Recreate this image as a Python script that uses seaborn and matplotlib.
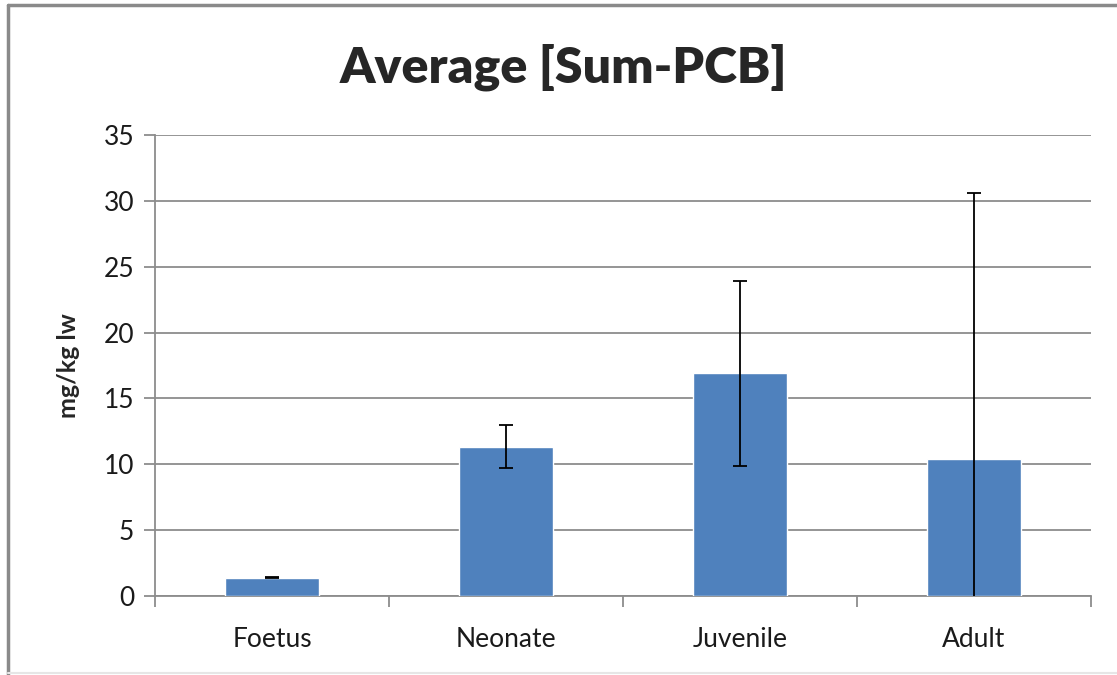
import pandas as pd
import seaborn as sns
import matplotlib.pyplot as plt
from matplotlib.lines import Line2D
from matplotlib.ticker import MultipleLocator, FixedLocator

# data
stages = ["Foetus", "Neonate", "Juvenile", "Adult"]
avg_pcb = [1.4, 11.35, 16.9, 10.4]
err_pcb = [0.05, 1.65, 7.0, 20.2]

df = pd.DataFrame({"stage": stages, "avg": avg_pcb, "err": err_pcb})

sns.set_style("white")
plt.rcParams['font.family'] = ['Lato', 'DejaVu Sans']

fig = plt.figure(figsize=(11.17, 6.75), dpi=100)
ax = fig.add_axes([155 / 1117, 1 - 596 / 675, (1091 - 155) / 1117, (596 - 135) / 675])

sns.barplot(data=df, x="stage", y="avg", color="#4F81BD", saturation=1, width=0.4, ax=ax, zorder=3)
ax.errorbar(range(len(stages)), df["avg"], yerr=df["err"], fmt="none", ecolor="black",
            elinewidth=1.3, capsize=4.7, capthick=1.3, zorder=4)

ax.set_ylim(0, 35)
ax.set_xlim(-0.5, 3.5)
ax.yaxis.set_major_locator(MultipleLocator(5))
ax.grid(axis="y", color="#8c8c8c", linewidth=1.3, zorder=0)
ax.set_axisbelow(True)

for side in ["top", "right"]:
    ax.spines[side].set_visible(False)
for side in ["left", "bottom"]:
    ax.spines[side].set_color("#8c8c8c")
    ax.spines[side].set_linewidth(1.3)

ax.tick_params(axis="y", length=8, width=1.3, color="#8c8c8c", labelsize=19, pad=7, direction="out", left=True)
ax.tick_params(axis="x", which="major", length=0, labelsize=19, pad=22)
ax.xaxis.set_minor_locator(FixedLocator([-0.5, 0.5, 1.5, 2.5, 3.5]))
ax.tick_params(axis="x", which="minor", length=8, width=1.3, color="#8c8c8c", direction="out", bottom=True)
for lbl in ax.get_xticklabels() + ax.get_yticklabels():
    lbl.set_color("#1a1a1a")

ax.set_xlabel("")
ax.set_ylabel("mg/kg lw", fontsize=18, fontweight="bold", labelpad=17)
fig.text(0.504, 1 - 67 / 675, "Average [Sum-PCB]", ha="center", va="center", fontsize=36, fontweight="heavy")

# chart frame: left and top edges, faint bottom
fig.lines.append(Line2D([8 / 1117, 8 / 1117], [0, 1 - 5 / 675], transform=fig.transFigure,
                        color="#8a8a8a", linewidth=2.5))
fig.lines.append(Line2D([8 / 1117, 1], [1 - 5 / 675, 1 - 5 / 675], transform=fig.transFigure,
                        color="#8a8a8a", linewidth=2.5))
fig.lines.append(Line2D([8 / 1117, 1], [2 / 675, 2 / 675], transform=fig.transFigure,
                        color="#e6e6e6", linewidth=1.5))

fig.savefig("out.png", dpi=100)
plt.close()
